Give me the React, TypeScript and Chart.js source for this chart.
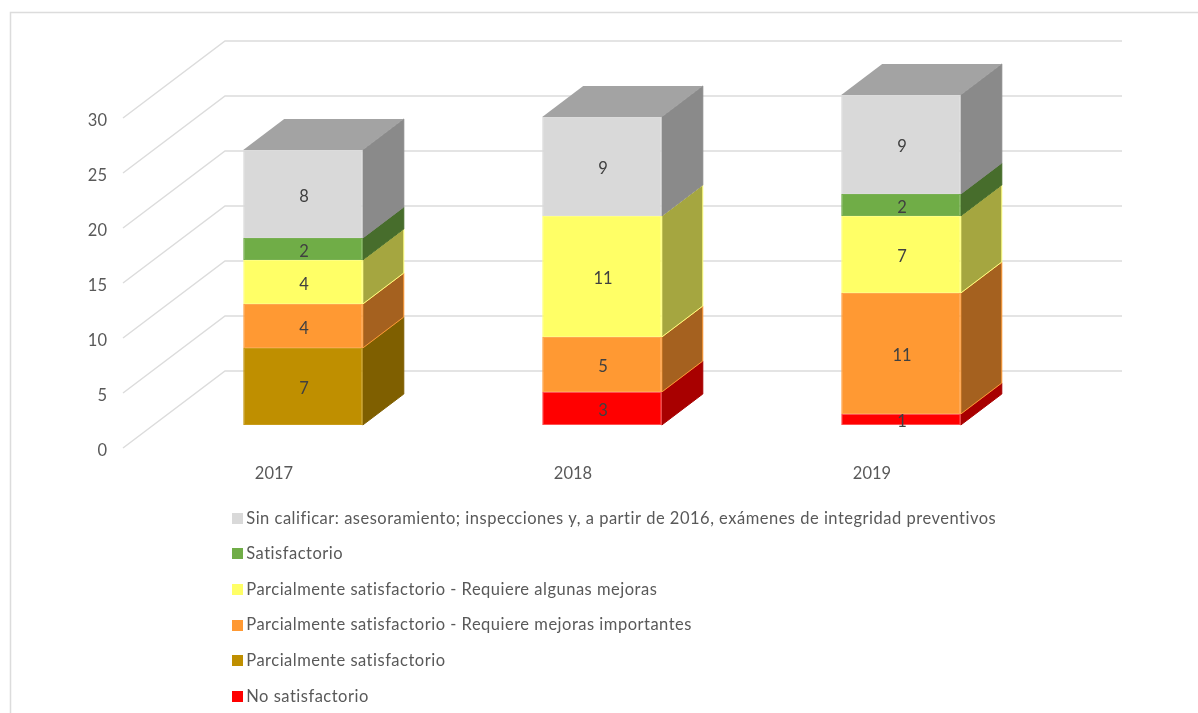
import React, { useEffect, useRef } from "react";
import { Chart, registerables } from "chart.js";

Chart.register(...registerables);

const categories = ["2017", "2018", "2019"];
const seriesNames = [
  "No satisfactorio",
  "Parcialmente satisfactorio",
  "Parcialmente satisfactorio - Requiere mejoras importantes",
  "Parcialmente satisfactorio - Requiere algunas mejoras",
  "Satisfactorio",
  "Sin calificar: asesoramiento; inspecciones y, a partir de 2016, exámenes de integridad preventivos",
];
const noSatisfactorio = [0, 3, 1];
const parcial = [7, 0, 0];
const mejorasImportantes = [4, 5, 11];
const algunasMejoras = [4, 11, 7];
const satisfactorio = [2, 0, 2];
const sinCalificar = [8, 9, 9];
const seriesValues = [noSatisfactorio, parcial, mejorasImportantes, algunasMejoras, satisfactorio, sinCalificar];
const frontColors = ["#ff0000", "#bf8f00", "#ff9933", "#ffff66", "#70ad47", "#d9d9d9"];
const edgeColors = ["#ff5050", "#c99c1a", "#ffa64d", "#ffff80", "#78b052", "#dcdcdc"];
const sideColors = ["#a80000", "#7f5f00", "#a5611f", "#a5a640", "#476d2c", "#8a8a8a"];
const sideEdgeColors = ["#a80000", "#7f5f00", "#ff9933", "#ffff80", "#476d2c", "#8a8a8a"];
const topColor = "#a3a3a3";
const tickLabels = [0, 5, 10, 15, 20, 25, 30];

const FONT = "Lato, Carlito, sans-serif";
const WALL_DX = 102;
const WALL_DY = 77;
const BAR_DX = 41;
const BAR_DY = 31;
const OFFSET_X = 30.5;
const OFFSET_Y = 23;

function swatch(color: string) {
  const c = document.createElement("canvas");
  c.width = 11;
  c.height = 11;
  const g = c.getContext("2d") as CanvasRenderingContext2D;
  g.fillStyle = color;
  g.fillRect(0, 0, 11, 11);
  return c;
}

const chart3d = {
  id: "chart3d",
  beforeDraw(chart: any) {
    const { ctx, chartArea, scales } = chart;
    ctx.save();
    ctx.strokeStyle = "#dcdcdc";
    ctx.lineWidth = 1.5;
    ctx.beginPath();
    ctx.moveTo(10.5, 713);
    ctx.lineTo(10.5, 12.5);
    ctx.lineTo(1198, 12.5);
    ctx.stroke();
    ctx.strokeStyle = "#dcdcdc";
    ctx.lineWidth = 1.5;
    for (const t of tickLabels) {
      const y = scales.y.getPixelForValue(t);
      ctx.beginPath();
      ctx.moveTo(chartArea.left, y);
      ctx.lineTo(chartArea.left + WALL_DX, y - WALL_DY);
      ctx.lineTo(chartArea.right + WALL_DX, y - WALL_DY);
      ctx.stroke();
    }
    ctx.restore();
  },
  beforeDatasetsDraw(chart: any) {
    const { ctx } = chart;
    ctx.save();
    ctx.translate(OFFSET_X, -OFFSET_Y);
    chart.data.datasets.forEach((_: any, di: number) => {
      const meta = chart.getDatasetMeta(di);
      meta.data.forEach((bar: any, i: number) => {
        const value = seriesValues[di][i];
        if (!value) return;
        const right = bar.x + bar.width / 2;
        const left = bar.x - bar.width / 2;
        ctx.fillStyle = sideColors[di];
        ctx.strokeStyle = sideEdgeColors[di];
        ctx.lineWidth = 1;
        ctx.beginPath();
        ctx.moveTo(right, bar.y);
        ctx.lineTo(right + BAR_DX, bar.y - BAR_DY);
        ctx.lineTo(right + BAR_DX, bar.base - BAR_DY);
        ctx.lineTo(right, bar.base);
        ctx.closePath();
        ctx.fill();
        ctx.stroke();
        const above = seriesValues.slice(di + 1).some((s) => s[i] > 0);
        if (!above) {
          ctx.fillStyle = topColor;
          ctx.beginPath();
          ctx.moveTo(left, bar.y);
          ctx.lineTo(left + BAR_DX, bar.y - BAR_DY);
          ctx.lineTo(right + BAR_DX, bar.y - BAR_DY);
          ctx.lineTo(right, bar.y);
          ctx.closePath();
          ctx.fill();
        }
      });
    });
    ctx.restore();
  },
  beforeDatasetDraw(chart: any) {
    chart.ctx.save();
    chart.ctx.translate(OFFSET_X, -OFFSET_Y);
  },
  afterDatasetDraw(chart: any) {
    chart.ctx.restore();
  },
  afterDatasetsDraw(chart: any) {
    const { ctx } = chart;
    ctx.save();
    ctx.fillStyle = "#404040";
    ctx.font = `16.5px ${FONT}`;
    ctx.textAlign = "center";
    ctx.textBaseline = "middle";
    chart.data.datasets.forEach((_: any, di: number) => {
      chart.getDatasetMeta(di).data.forEach((bar: any, i: number) => {
        const value = seriesValues[di][i];
        if (!value) return;
        ctx.fillText(String(value), bar.x + OFFSET_X + 1, (bar.y + bar.base) / 2 - OFFSET_Y + 2.5);
      });
    });
    ctx.restore();
  },
  afterLayout(chart: any) {
    const legend = chart.legend;
    const w = legend.right - legend.left;
    const h = legend.bottom - legend.top;
    legend.left = 217.9;
    legend.top = 491;
    legend.right = legend.left + w;
    legend.bottom = legend.top + Math.max(h, 222);
    if (!legend._spaced) {
      legend._spaced = true;
      const draw = legend.draw.bind(legend);
      legend.draw = (...args: any[]) => {
        const ctx = chart.ctx;
        const prev = ctx.letterSpacing;
        ctx.letterSpacing = "0.5px";
        draw(...args);
        ctx.letterSpacing = prev;
      };
    }
  },
};

export default function App() {
  const ref = useRef<HTMLCanvasElement | null>(null);
  useEffect(() => {
    const chart = new Chart(ref.current as HTMLCanvasElement, {
      type: "bar",
      data: {
        labels: categories,
        datasets: seriesNames.map((label, i) => ({
          label,
          data: seriesValues[i],
          backgroundColor: frontColors[i],
          borderColor: edgeColors[i],
          borderWidth: (c: any) => (c.raw ? 1 : 0),
          borderSkipped: false,
          categoryPercentage: 1,
          barPercentage: 0.4,
          clip: false,
        })),
      },
      options: {
        responsive: false,
        animation: false,
        layout: { padding: { left: 0, top: 118, right: 178, bottom: 0 } },
        scales: {
          x: {
            stacked: true,
            grid: { display: false },
            border: { display: false },
            ticks: { color: "#595959", font: { family: FONT, size: 16.5 }, padding: 8, labelOffset: 1.5, maxRotation: 0 },
            afterFit(s: any) { s.height = 265; },
          },
          y: {
            stacked: true,
            min: 0,
            max: 30,
            grid: { display: false },
            border: { display: false },
            ticks: { stepSize: 5, color: "#595959", font: { family: FONT, size: 16.5 }, padding: 8, labelOffset: 2.5 },
            afterFit(s: any) { s.width = 123; },
          },
        },
        plugins: {
          tooltip: { enabled: false },
          legend: {
            position: "chartArea",
            align: "start",
            reverse: true,
            labels: {
              color: "#595959",
              font: { family: FONT, size: 16.5 },
              usePointStyle: true,
              pointStyleWidth: 1,
              padding: 19.1,
              generateLabels(c: any) {
                const base = Chart.defaults.plugins.legend.labels.generateLabels(c);
                return base.map((item: any) => ({
                  ...item,
                  pointStyle: swatch(frontColors[item.datasetIndex]),
                }));
              },
            },
          },
        },
      } as any,
      plugins: [chart3d],
    } as any);
    return () => chart.destroy();
  }, []);
  return (
    <div style={{ position: "fixed", left: 0, top: 0, width: 1198, height: 713, background: "#fff" }}>
      <canvas ref={ref} width={1198} height={713} style={{ display: "block" }} />
    </div>
  );
}
